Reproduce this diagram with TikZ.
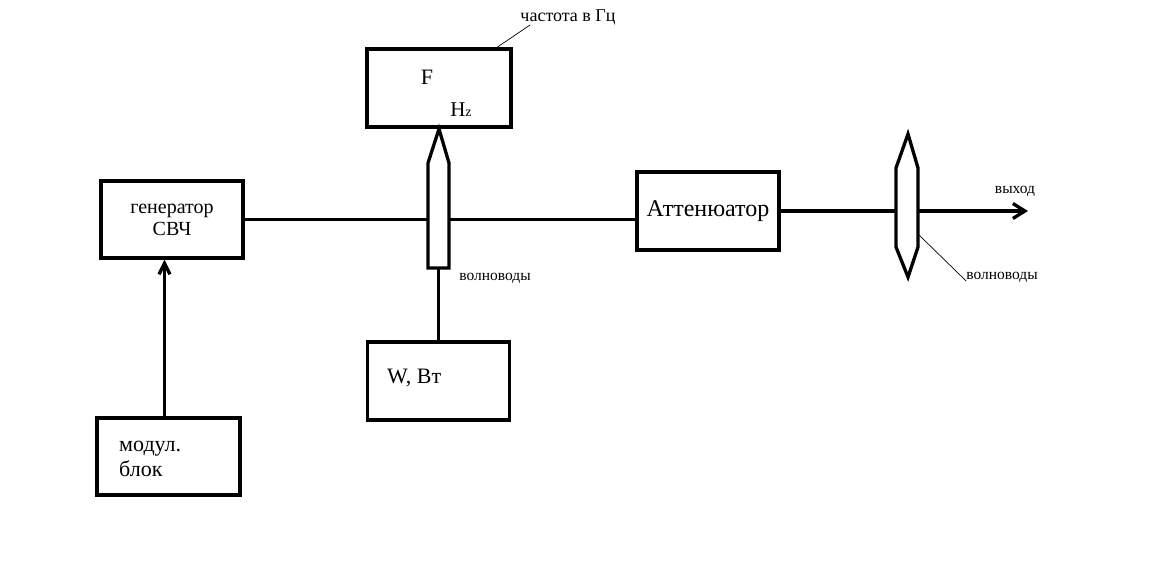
\documentclass[tikz,border=0pt]{standalone}
\usepackage{fontspec}
\setmainfont{Liberation Serif}
\usepackage{tikz}
\usetikzlibrary{arrows.meta, positioning}
\def\zond{(428,268) -- (428,163) -- (439,129) -- (449,163) -- (449,268) -- cycle}
\def\linza{(908,134) -- (918,168) -- (918,247) -- (908,277) -- (896,247) -- (896,168) -- cycle}
\tikzset{
    blok/.style = {draw, line width = 3.3pt, minimum width = 142pt, minimum height = 77pt, inner sep = 0pt},
    svyaz/.style = {line width = 3.3pt},
    vynoska/.style = {line width = 0.7pt},
    bigtxt/.style = {font = \fontsize{20}{22}\selectfont},
    smalltxt/.style = {font = \fontsize{15.5}{17}\selectfont, inner sep = 0pt}
}

\begin{document}
\begin{tikzpicture}[x = 1pt, y = -1pt]
    \useasboundingbox (0,0) rectangle (1169,588);
    % Blocchi
    \node[blok, align = center, bigtxt] (gen) at (172,219.5) {генератор\\СВЧ};
    \node[blok, minimum width = 143pt] (modul) at (168.5,456.5) {};
    \node[blok, minimum width = 144pt, minimum height = 78pt] (freq) at (439,88) {};
    \node[blok, minimum height = 78pt] (watt) at (438.5,381) {};
    \node[blok, minimum height = 78pt, font = \fontsize{24}{26}\selectfont] (atten) at (708,211) {Аттенюатор};
    % Testi nei blocchi
    \node[anchor = west, align = left, font = \fontsize{22}{25}\selectfont, inner sep = 0pt] (modultxt) at (119,459) {модул.\\блок};
    \node[font = \fontsize{22}{24}\selectfont, inner sep = 0pt] (ftxt) at (427,77) {F};
    \node[font = \fontsize{21}{24}\selectfont, inner sep = 0pt] (hztxt) at (461,110) {H{\fontsize{14}{16}\selectfont z}};
    \node[anchor = west, font = \fontsize{22}{24}\selectfont, inner sep = 0pt] (watttxt) at (387,378) {W, Вт};
    % Linee
    \coordinate (vyhod) at (1028,212);
    \coordinate (zondniz) at (438.5,268);
    \draw[svyaz] (gen.east) -- (gen.east -| atten.west);
    \draw[svyaz, -{Straight Barb[length = 11pt, width = 11pt]}] ([xshift = -4pt]modul.north) -- ([xshift = -4pt]modul.north |- gen.south);
    \draw[svyaz] (zondniz) -- (watt.north);
    \draw[svyaz, -{Straight Barb[length = 12pt, width = 15pt]}] (atten.east) -- (atten.east -| vyhod);
    % Volnovody
    \filldraw[svyaz, fill = white] \zond;
    \filldraw[svyaz, fill = white] \linza;
    % Scritte
    \node[font = \fontsize{18}{20}\selectfont, inner sep = 0pt] (freqlbl) at (568,17) {частота в Гц};
    \node[smalltxt] (volnlbl) at (495,278) {волноводы};
    \node[smalltxt] (vyhodlbl) at (1015,191) {выход};
    \node[smalltxt] (volnlbl2) at (1002,277) {волноводы};
    \coordinate (linzakrai) at (919,235);
    \draw[vynoska] ([xshift = 58pt]freq.north) -- ([xshift = 10pt]freqlbl.south west);
    \draw[vynoska] (linzakrai) -- ([yshift = -4pt]volnlbl2.west);
\end{tikzpicture}
\end{document}
